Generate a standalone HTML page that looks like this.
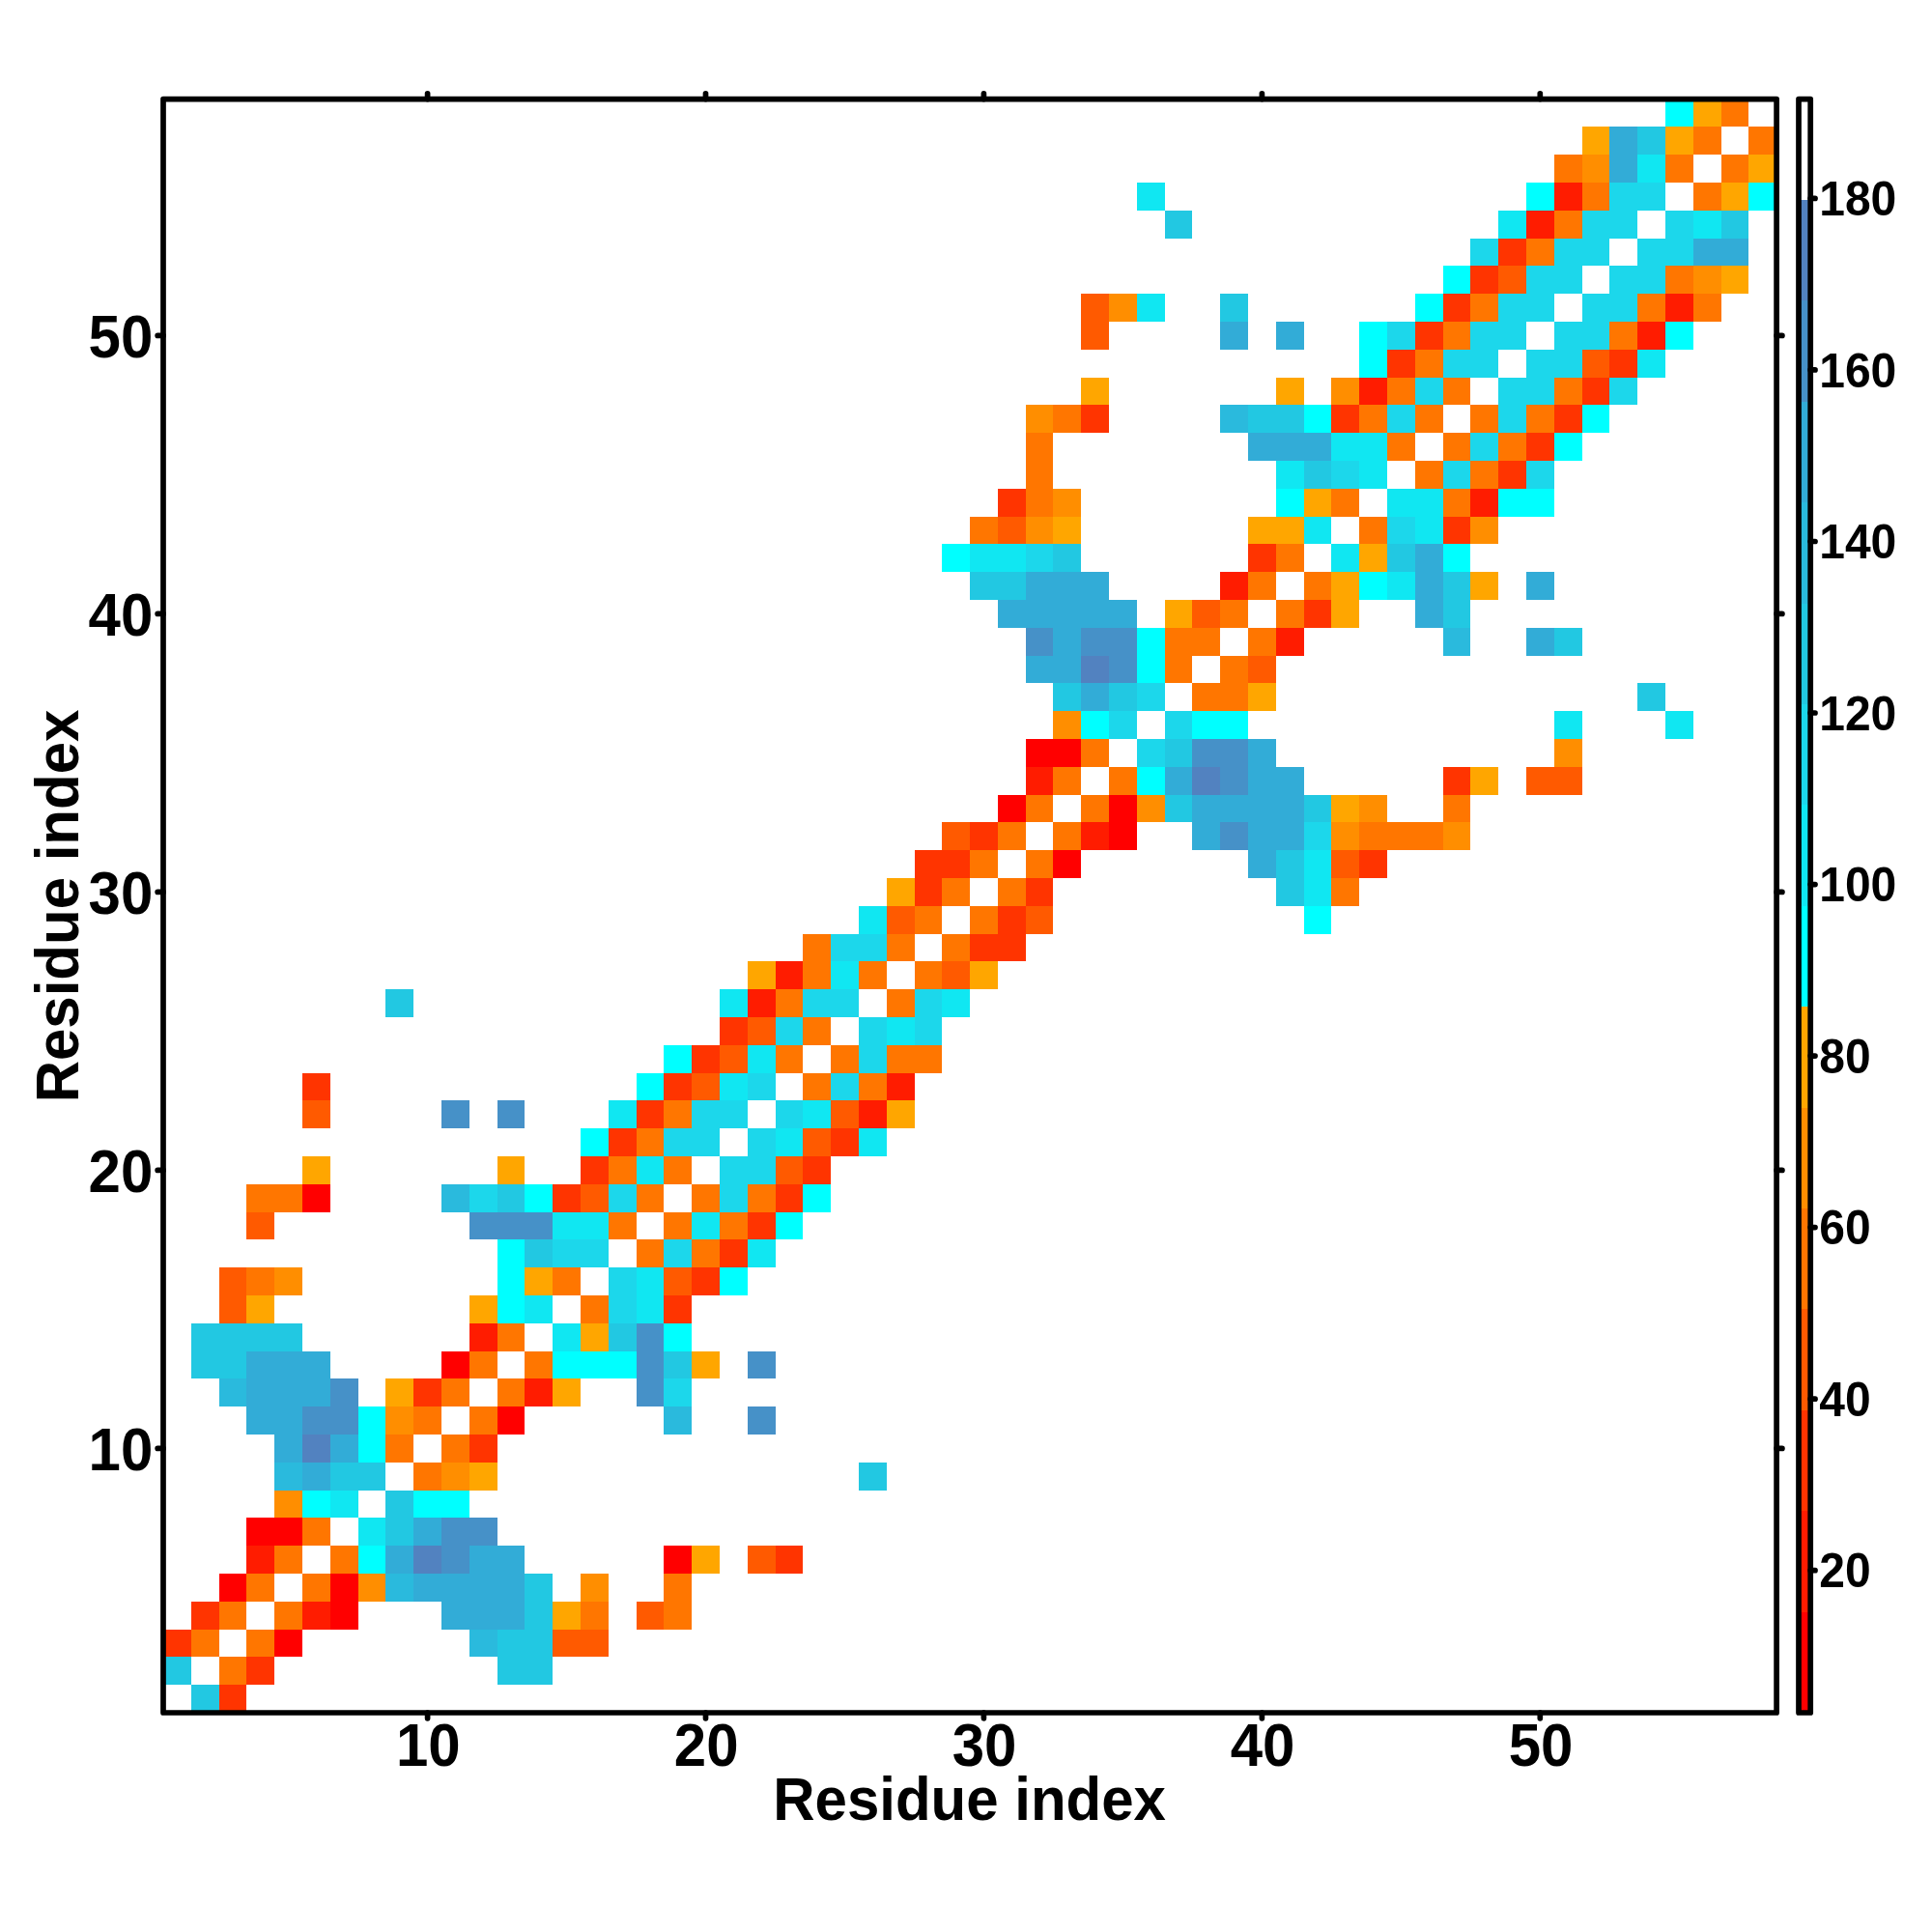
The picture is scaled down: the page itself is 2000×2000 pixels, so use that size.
<!DOCTYPE html>
<html><head><meta charset="utf-8"><title>Residue contact map</title>
<style>
html,body{margin:0;padding:0;background:#fff;}
body{width:2000px;height:2000px;overflow:hidden;}
svg{display:block;}
text{font-family:"Liberation Sans",sans-serif;font-weight:bold;fill:#000;}
.t60{font-size:60px;}
.t48{font-size:48px;}
</style></head><body>
<svg width="2000" height="2000" viewBox="0 0 2000 2000">
<rect x="0" y="0" width="2000" height="2000" fill="#ffffff"/>

<g shape-rendering="crispEdges">
<rect x="197.8" y="1744.2" width="28.8" height="28.8" fill="#22c8e2"/>
<rect x="226.6" y="1744.2" width="28.8" height="28.8" fill="#ff3400"/>
<rect x="169.0" y="1715.4" width="28.8" height="28.8" fill="#22c8e2"/>
<rect x="226.6" y="1715.4" width="28.8" height="28.8" fill="#ff7600"/>
<rect x="255.4" y="1715.4" width="28.8" height="28.8" fill="#ff3400"/>
<rect x="514.5" y="1715.4" width="57.6" height="28.8" fill="#22c8e2"/>
<rect x="169.0" y="1686.6" width="28.8" height="28.8" fill="#ff3400"/>
<rect x="197.8" y="1686.6" width="28.8" height="28.8" fill="#ff7600"/>
<rect x="255.4" y="1686.6" width="28.8" height="28.8" fill="#ff7600"/>
<rect x="284.2" y="1686.6" width="28.8" height="28.8" fill="#ff0000"/>
<rect x="485.7" y="1686.6" width="28.8" height="28.8" fill="#2abadd"/>
<rect x="514.5" y="1686.6" width="57.6" height="28.8" fill="#22c8e2"/>
<rect x="572.1" y="1686.6" width="57.6" height="28.8" fill="#ff5a00"/>
<rect x="197.8" y="1657.8" width="28.8" height="28.8" fill="#ff3400"/>
<rect x="226.6" y="1657.8" width="28.8" height="28.8" fill="#ff7600"/>
<rect x="284.2" y="1657.8" width="28.8" height="28.8" fill="#ff7600"/>
<rect x="313.0" y="1657.8" width="28.8" height="28.8" fill="#ff1c00"/>
<rect x="341.8" y="1657.8" width="28.8" height="28.8" fill="#ff0000"/>
<rect x="456.9" y="1657.8" width="86.4" height="28.8" fill="#32acd7"/>
<rect x="543.3" y="1657.8" width="28.8" height="28.8" fill="#22c8e2"/>
<rect x="572.1" y="1657.8" width="28.8" height="28.8" fill="#ffa600"/>
<rect x="600.9" y="1657.8" width="28.8" height="28.8" fill="#ff7600"/>
<rect x="658.5" y="1657.8" width="28.8" height="28.8" fill="#ff5a00"/>
<rect x="687.3" y="1657.8" width="28.8" height="28.8" fill="#ff7600"/>
<rect x="226.6" y="1629.0" width="28.8" height="28.8" fill="#ff0000"/>
<rect x="255.4" y="1629.0" width="28.8" height="28.8" fill="#ff7600"/>
<rect x="313.0" y="1629.0" width="28.8" height="28.8" fill="#ff7600"/>
<rect x="341.8" y="1629.0" width="28.8" height="28.8" fill="#ff0000"/>
<rect x="370.6" y="1629.0" width="28.8" height="28.8" fill="#ff8e00"/>
<rect x="399.4" y="1629.0" width="28.8" height="28.8" fill="#2abadd"/>
<rect x="428.2" y="1629.0" width="115.2" height="28.8" fill="#32acd7"/>
<rect x="543.3" y="1629.0" width="28.8" height="28.8" fill="#22c8e2"/>
<rect x="600.9" y="1629.0" width="28.8" height="28.8" fill="#ff8e00"/>
<rect x="687.3" y="1629.0" width="28.8" height="28.8" fill="#ff7600"/>
<rect x="255.4" y="1600.2" width="28.8" height="28.8" fill="#ff1c00"/>
<rect x="284.2" y="1600.2" width="28.8" height="28.8" fill="#ff7600"/>
<rect x="341.8" y="1600.2" width="28.8" height="28.8" fill="#ff7600"/>
<rect x="370.6" y="1600.2" width="28.8" height="28.8" fill="#00ffff"/>
<rect x="399.4" y="1600.2" width="28.8" height="28.8" fill="#32acd7"/>
<rect x="428.2" y="1600.2" width="28.8" height="28.8" fill="#5282c0"/>
<rect x="456.9" y="1600.2" width="28.8" height="28.8" fill="#4691c8"/>
<rect x="485.7" y="1600.2" width="57.6" height="28.8" fill="#32acd7"/>
<rect x="687.3" y="1600.2" width="28.8" height="28.8" fill="#ff0000"/>
<rect x="716.1" y="1600.2" width="28.8" height="28.8" fill="#ffa600"/>
<rect x="773.7" y="1600.2" width="28.8" height="28.8" fill="#ff5a00"/>
<rect x="802.5" y="1600.2" width="28.8" height="28.8" fill="#ff3400"/>
<rect x="255.4" y="1571.4" width="57.6" height="28.8" fill="#ff0000"/>
<rect x="313.0" y="1571.4" width="28.8" height="28.8" fill="#ff7600"/>
<rect x="370.6" y="1571.4" width="28.8" height="28.8" fill="#10e7f2"/>
<rect x="399.4" y="1571.4" width="28.8" height="28.8" fill="#22c8e2"/>
<rect x="428.2" y="1571.4" width="28.8" height="28.8" fill="#32acd7"/>
<rect x="456.9" y="1571.4" width="57.6" height="28.8" fill="#4691c8"/>
<rect x="284.2" y="1542.6" width="28.8" height="28.8" fill="#ff8e00"/>
<rect x="313.0" y="1542.6" width="28.8" height="28.8" fill="#00ffff"/>
<rect x="341.8" y="1542.6" width="28.8" height="28.8" fill="#10e7f2"/>
<rect x="399.4" y="1542.6" width="28.8" height="28.8" fill="#22c8e2"/>
<rect x="428.2" y="1542.6" width="57.6" height="28.8" fill="#00ffff"/>
<rect x="284.2" y="1513.8" width="28.8" height="28.8" fill="#2abadd"/>
<rect x="313.0" y="1513.8" width="28.8" height="28.8" fill="#32acd7"/>
<rect x="341.8" y="1513.8" width="57.6" height="28.8" fill="#22c8e2"/>
<rect x="428.2" y="1513.8" width="28.8" height="28.8" fill="#ff7600"/>
<rect x="456.9" y="1513.8" width="28.8" height="28.8" fill="#ff8e00"/>
<rect x="485.7" y="1513.8" width="28.8" height="28.8" fill="#ffa600"/>
<rect x="888.9" y="1513.8" width="28.8" height="28.8" fill="#22c8e2"/>
<rect x="284.2" y="1485.0" width="28.8" height="28.8" fill="#32acd7"/>
<rect x="313.0" y="1485.0" width="28.8" height="28.8" fill="#5282c0"/>
<rect x="341.8" y="1485.0" width="28.8" height="28.8" fill="#32acd7"/>
<rect x="370.6" y="1485.0" width="28.8" height="28.8" fill="#00ffff"/>
<rect x="399.4" y="1485.0" width="28.8" height="28.8" fill="#ff7600"/>
<rect x="456.9" y="1485.0" width="28.8" height="28.8" fill="#ff7600"/>
<rect x="485.7" y="1485.0" width="28.8" height="28.8" fill="#ff3400"/>
<rect x="255.4" y="1456.2" width="57.6" height="28.8" fill="#32acd7"/>
<rect x="313.0" y="1456.2" width="57.6" height="28.8" fill="#4691c8"/>
<rect x="370.6" y="1456.2" width="28.8" height="28.8" fill="#00ffff"/>
<rect x="399.4" y="1456.2" width="28.8" height="28.8" fill="#ff8e00"/>
<rect x="428.2" y="1456.2" width="28.8" height="28.8" fill="#ff7600"/>
<rect x="485.7" y="1456.2" width="28.8" height="28.8" fill="#ff7600"/>
<rect x="514.5" y="1456.2" width="28.8" height="28.8" fill="#ff0000"/>
<rect x="687.3" y="1456.2" width="28.8" height="28.8" fill="#2abadd"/>
<rect x="773.7" y="1456.2" width="28.8" height="28.8" fill="#4691c8"/>
<rect x="226.6" y="1427.4" width="28.8" height="28.8" fill="#2abadd"/>
<rect x="255.4" y="1427.4" width="86.4" height="28.8" fill="#32acd7"/>
<rect x="341.8" y="1427.4" width="28.8" height="28.8" fill="#4691c8"/>
<rect x="399.4" y="1427.4" width="28.8" height="28.8" fill="#ffa600"/>
<rect x="428.2" y="1427.4" width="28.8" height="28.8" fill="#ff3400"/>
<rect x="456.9" y="1427.4" width="28.8" height="28.8" fill="#ff7600"/>
<rect x="514.5" y="1427.4" width="28.8" height="28.8" fill="#ff7600"/>
<rect x="543.3" y="1427.4" width="28.8" height="28.8" fill="#ff1c00"/>
<rect x="572.1" y="1427.4" width="28.8" height="28.8" fill="#ffa600"/>
<rect x="658.5" y="1427.4" width="28.8" height="28.8" fill="#4691c8"/>
<rect x="687.3" y="1427.4" width="28.8" height="28.8" fill="#1cd7eb"/>
<rect x="197.8" y="1398.6" width="57.6" height="28.8" fill="#22c8e2"/>
<rect x="255.4" y="1398.6" width="86.4" height="28.8" fill="#32acd7"/>
<rect x="456.9" y="1398.6" width="28.8" height="28.8" fill="#ff0000"/>
<rect x="485.7" y="1398.6" width="28.8" height="28.8" fill="#ff7600"/>
<rect x="543.3" y="1398.6" width="28.8" height="28.8" fill="#ff7600"/>
<rect x="572.1" y="1398.6" width="86.4" height="28.8" fill="#00ffff"/>
<rect x="658.5" y="1398.6" width="28.8" height="28.8" fill="#4691c8"/>
<rect x="687.3" y="1398.6" width="28.8" height="28.8" fill="#22c8e2"/>
<rect x="716.1" y="1398.6" width="28.8" height="28.8" fill="#ffa600"/>
<rect x="773.7" y="1398.6" width="28.8" height="28.8" fill="#4691c8"/>
<rect x="197.8" y="1369.8" width="115.2" height="28.8" fill="#22c8e2"/>
<rect x="485.7" y="1369.8" width="28.8" height="28.8" fill="#ff1c00"/>
<rect x="514.5" y="1369.8" width="28.8" height="28.8" fill="#ff7600"/>
<rect x="572.1" y="1369.8" width="28.8" height="28.8" fill="#10e7f2"/>
<rect x="600.9" y="1369.8" width="28.8" height="28.8" fill="#ffa600"/>
<rect x="629.7" y="1369.8" width="28.8" height="28.8" fill="#22c8e2"/>
<rect x="658.5" y="1369.8" width="28.8" height="28.8" fill="#4691c8"/>
<rect x="687.3" y="1369.8" width="28.8" height="28.8" fill="#00ffff"/>
<rect x="226.6" y="1341.0" width="28.8" height="28.8" fill="#ff5a00"/>
<rect x="255.4" y="1341.0" width="28.8" height="28.8" fill="#ffa600"/>
<rect x="485.7" y="1341.0" width="28.8" height="28.8" fill="#ffa600"/>
<rect x="514.5" y="1341.0" width="28.8" height="28.8" fill="#00ffff"/>
<rect x="543.3" y="1341.0" width="28.8" height="28.8" fill="#10e7f2"/>
<rect x="600.9" y="1341.0" width="28.8" height="28.8" fill="#ff7600"/>
<rect x="629.7" y="1341.0" width="28.8" height="28.8" fill="#1cd7eb"/>
<rect x="658.5" y="1341.0" width="28.8" height="28.8" fill="#10e7f2"/>
<rect x="687.3" y="1341.0" width="28.8" height="28.8" fill="#ff3400"/>
<rect x="226.6" y="1312.2" width="28.8" height="28.8" fill="#ff5a00"/>
<rect x="255.4" y="1312.2" width="28.8" height="28.8" fill="#ff7600"/>
<rect x="284.2" y="1312.2" width="28.8" height="28.8" fill="#ff8e00"/>
<rect x="514.5" y="1312.2" width="28.8" height="28.8" fill="#00ffff"/>
<rect x="543.3" y="1312.2" width="28.8" height="28.8" fill="#ffa600"/>
<rect x="572.1" y="1312.2" width="28.8" height="28.8" fill="#ff7600"/>
<rect x="629.7" y="1312.2" width="28.8" height="28.8" fill="#1cd7eb"/>
<rect x="658.5" y="1312.2" width="28.8" height="28.8" fill="#10e7f2"/>
<rect x="687.3" y="1312.2" width="28.8" height="28.8" fill="#ff5a00"/>
<rect x="716.1" y="1312.2" width="28.8" height="28.8" fill="#ff3400"/>
<rect x="744.9" y="1312.2" width="28.8" height="28.8" fill="#00ffff"/>
<rect x="514.5" y="1283.4" width="28.8" height="28.8" fill="#00ffff"/>
<rect x="543.3" y="1283.4" width="28.8" height="28.8" fill="#22c8e2"/>
<rect x="572.1" y="1283.4" width="57.6" height="28.8" fill="#1cd7eb"/>
<rect x="658.5" y="1283.4" width="28.8" height="28.8" fill="#ff7600"/>
<rect x="687.3" y="1283.4" width="28.8" height="28.8" fill="#1cd7eb"/>
<rect x="716.1" y="1283.4" width="28.8" height="28.8" fill="#ff7600"/>
<rect x="744.9" y="1283.4" width="28.8" height="28.8" fill="#ff3400"/>
<rect x="773.7" y="1283.4" width="28.8" height="28.8" fill="#10e7f2"/>
<rect x="255.4" y="1254.6" width="28.8" height="28.8" fill="#ff5a00"/>
<rect x="485.7" y="1254.6" width="86.4" height="28.8" fill="#4691c8"/>
<rect x="572.1" y="1254.6" width="57.6" height="28.8" fill="#10e7f2"/>
<rect x="629.7" y="1254.6" width="28.8" height="28.8" fill="#ff7600"/>
<rect x="687.3" y="1254.6" width="28.8" height="28.8" fill="#ff7600"/>
<rect x="716.1" y="1254.6" width="28.8" height="28.8" fill="#10e7f2"/>
<rect x="744.9" y="1254.6" width="28.8" height="28.8" fill="#ff7600"/>
<rect x="773.7" y="1254.6" width="28.8" height="28.8" fill="#ff3400"/>
<rect x="802.5" y="1254.6" width="28.8" height="28.8" fill="#00ffff"/>
<rect x="255.4" y="1225.8" width="57.6" height="28.8" fill="#ff7600"/>
<rect x="313.0" y="1225.8" width="28.8" height="28.8" fill="#ff0000"/>
<rect x="456.9" y="1225.8" width="28.8" height="28.8" fill="#2abadd"/>
<rect x="485.7" y="1225.8" width="28.8" height="28.8" fill="#1cd7eb"/>
<rect x="514.5" y="1225.8" width="28.8" height="28.8" fill="#22c8e2"/>
<rect x="543.3" y="1225.8" width="28.8" height="28.8" fill="#00ffff"/>
<rect x="572.1" y="1225.8" width="28.8" height="28.8" fill="#ff3400"/>
<rect x="600.9" y="1225.8" width="28.8" height="28.8" fill="#ff5a00"/>
<rect x="629.7" y="1225.8" width="28.8" height="28.8" fill="#1cd7eb"/>
<rect x="658.5" y="1225.8" width="28.8" height="28.8" fill="#ff7600"/>
<rect x="716.1" y="1225.8" width="28.8" height="28.8" fill="#ff7600"/>
<rect x="744.9" y="1225.8" width="28.8" height="28.8" fill="#1cd7eb"/>
<rect x="773.7" y="1225.8" width="28.8" height="28.8" fill="#ff7600"/>
<rect x="802.5" y="1225.8" width="28.8" height="28.8" fill="#ff3400"/>
<rect x="831.3" y="1225.8" width="28.8" height="28.8" fill="#00ffff"/>
<rect x="313.0" y="1197.0" width="28.8" height="28.8" fill="#ffa600"/>
<rect x="514.5" y="1197.0" width="28.8" height="28.8" fill="#ffa600"/>
<rect x="600.9" y="1197.0" width="28.8" height="28.8" fill="#ff3400"/>
<rect x="629.7" y="1197.0" width="28.8" height="28.8" fill="#ff7600"/>
<rect x="658.5" y="1197.0" width="28.8" height="28.8" fill="#10e7f2"/>
<rect x="687.3" y="1197.0" width="28.8" height="28.8" fill="#ff7600"/>
<rect x="744.9" y="1197.0" width="57.6" height="28.8" fill="#1cd7eb"/>
<rect x="802.5" y="1197.0" width="28.8" height="28.8" fill="#ff5a00"/>
<rect x="831.3" y="1197.0" width="28.8" height="28.8" fill="#ff3400"/>
<rect x="600.9" y="1168.2" width="28.8" height="28.8" fill="#00ffff"/>
<rect x="629.7" y="1168.2" width="28.8" height="28.8" fill="#ff3400"/>
<rect x="658.5" y="1168.2" width="28.8" height="28.8" fill="#ff7600"/>
<rect x="687.3" y="1168.2" width="57.6" height="28.8" fill="#1cd7eb"/>
<rect x="773.7" y="1168.2" width="28.8" height="28.8" fill="#1cd7eb"/>
<rect x="802.5" y="1168.2" width="28.8" height="28.8" fill="#10e7f2"/>
<rect x="831.3" y="1168.2" width="28.8" height="28.8" fill="#ff5a00"/>
<rect x="860.1" y="1168.2" width="28.8" height="28.8" fill="#ff3400"/>
<rect x="888.9" y="1168.2" width="28.8" height="28.8" fill="#10e7f2"/>
<rect x="313.0" y="1139.4" width="28.8" height="28.8" fill="#ff5a00"/>
<rect x="456.9" y="1139.4" width="28.8" height="28.8" fill="#4691c8"/>
<rect x="514.5" y="1139.4" width="28.8" height="28.8" fill="#4691c8"/>
<rect x="629.7" y="1139.4" width="28.8" height="28.8" fill="#10e7f2"/>
<rect x="658.5" y="1139.4" width="28.8" height="28.8" fill="#ff3400"/>
<rect x="687.3" y="1139.4" width="28.8" height="28.8" fill="#ff7600"/>
<rect x="716.1" y="1139.4" width="57.6" height="28.8" fill="#1cd7eb"/>
<rect x="802.5" y="1139.4" width="28.8" height="28.8" fill="#1cd7eb"/>
<rect x="831.3" y="1139.4" width="28.8" height="28.8" fill="#10e7f2"/>
<rect x="860.1" y="1139.4" width="28.8" height="28.8" fill="#ff5a00"/>
<rect x="888.9" y="1139.4" width="28.8" height="28.8" fill="#ff1c00"/>
<rect x="917.7" y="1139.4" width="28.8" height="28.8" fill="#ffa600"/>
<rect x="313.0" y="1110.6" width="28.8" height="28.8" fill="#ff3400"/>
<rect x="658.5" y="1110.6" width="28.8" height="28.8" fill="#00ffff"/>
<rect x="687.3" y="1110.6" width="28.8" height="28.8" fill="#ff3400"/>
<rect x="716.1" y="1110.6" width="28.8" height="28.8" fill="#ff5a00"/>
<rect x="744.9" y="1110.6" width="28.8" height="28.8" fill="#10e7f2"/>
<rect x="773.7" y="1110.6" width="28.8" height="28.8" fill="#1cd7eb"/>
<rect x="831.3" y="1110.6" width="28.8" height="28.8" fill="#ff7600"/>
<rect x="860.1" y="1110.6" width="28.8" height="28.8" fill="#1cd7eb"/>
<rect x="888.9" y="1110.6" width="28.8" height="28.8" fill="#ff7600"/>
<rect x="917.7" y="1110.6" width="28.8" height="28.8" fill="#ff1c00"/>
<rect x="687.3" y="1081.8" width="28.8" height="28.8" fill="#00ffff"/>
<rect x="716.1" y="1081.8" width="28.8" height="28.8" fill="#ff3400"/>
<rect x="744.9" y="1081.8" width="28.8" height="28.8" fill="#ff5a00"/>
<rect x="773.7" y="1081.8" width="28.8" height="28.8" fill="#10e7f2"/>
<rect x="802.5" y="1081.8" width="28.8" height="28.8" fill="#ff7600"/>
<rect x="860.1" y="1081.8" width="28.8" height="28.8" fill="#ff7600"/>
<rect x="888.9" y="1081.8" width="28.8" height="28.8" fill="#1cd7eb"/>
<rect x="917.7" y="1081.8" width="57.6" height="28.8" fill="#ff7600"/>
<rect x="744.9" y="1053.0" width="28.8" height="28.8" fill="#ff3400"/>
<rect x="773.7" y="1053.0" width="28.8" height="28.8" fill="#ff5a00"/>
<rect x="802.5" y="1053.0" width="28.8" height="28.8" fill="#1cd7eb"/>
<rect x="831.3" y="1053.0" width="28.8" height="28.8" fill="#ff7600"/>
<rect x="888.9" y="1053.0" width="28.8" height="28.8" fill="#1cd7eb"/>
<rect x="917.7" y="1053.0" width="28.8" height="28.8" fill="#10e7f2"/>
<rect x="946.5" y="1053.0" width="28.8" height="28.8" fill="#1cd7eb"/>
<rect x="399.4" y="1024.2" width="28.8" height="28.8" fill="#22c8e2"/>
<rect x="744.9" y="1024.2" width="28.8" height="28.8" fill="#10e7f2"/>
<rect x="773.7" y="1024.2" width="28.8" height="28.8" fill="#ff1c00"/>
<rect x="802.5" y="1024.2" width="28.8" height="28.8" fill="#ff7600"/>
<rect x="831.3" y="1024.2" width="57.6" height="28.8" fill="#1cd7eb"/>
<rect x="917.7" y="1024.2" width="28.8" height="28.8" fill="#ff7600"/>
<rect x="946.5" y="1024.2" width="28.8" height="28.8" fill="#1cd7eb"/>
<rect x="975.3" y="1024.2" width="28.8" height="28.8" fill="#10e7f2"/>
<rect x="773.7" y="995.4" width="28.8" height="28.8" fill="#ffa600"/>
<rect x="802.5" y="995.4" width="28.8" height="28.8" fill="#ff1c00"/>
<rect x="831.3" y="995.4" width="28.8" height="28.8" fill="#ff7600"/>
<rect x="860.1" y="995.4" width="28.8" height="28.8" fill="#10e7f2"/>
<rect x="888.9" y="995.4" width="28.8" height="28.8" fill="#ff7600"/>
<rect x="946.5" y="995.4" width="28.8" height="28.8" fill="#ff7600"/>
<rect x="975.3" y="995.4" width="28.8" height="28.8" fill="#ff5a00"/>
<rect x="1004.0" y="995.4" width="28.8" height="28.8" fill="#ffa600"/>
<rect x="831.3" y="966.6" width="28.8" height="28.8" fill="#ff7600"/>
<rect x="860.1" y="966.6" width="57.6" height="28.8" fill="#1cd7eb"/>
<rect x="917.7" y="966.6" width="28.8" height="28.8" fill="#ff7600"/>
<rect x="975.3" y="966.6" width="28.8" height="28.8" fill="#ff7600"/>
<rect x="1004.0" y="966.6" width="57.6" height="28.8" fill="#ff3400"/>
<rect x="888.9" y="937.8" width="28.8" height="28.8" fill="#10e7f2"/>
<rect x="917.7" y="937.8" width="28.8" height="28.8" fill="#ff5a00"/>
<rect x="946.5" y="937.8" width="28.8" height="28.8" fill="#ff7600"/>
<rect x="1004.0" y="937.8" width="28.8" height="28.8" fill="#ff7600"/>
<rect x="1032.8" y="937.8" width="28.8" height="28.8" fill="#ff3400"/>
<rect x="1061.6" y="937.8" width="28.8" height="28.8" fill="#ff5a00"/>
<rect x="1349.6" y="937.8" width="28.8" height="28.8" fill="#00ffff"/>
<rect x="917.7" y="909.0" width="28.8" height="28.8" fill="#ffa600"/>
<rect x="946.5" y="909.0" width="28.8" height="28.8" fill="#ff3400"/>
<rect x="975.3" y="909.0" width="28.8" height="28.8" fill="#ff7600"/>
<rect x="1032.8" y="909.0" width="28.8" height="28.8" fill="#ff7600"/>
<rect x="1061.6" y="909.0" width="28.8" height="28.8" fill="#ff3400"/>
<rect x="1320.8" y="909.0" width="28.8" height="28.8" fill="#22c8e2"/>
<rect x="1349.6" y="909.0" width="28.8" height="28.8" fill="#10e7f2"/>
<rect x="1378.4" y="909.0" width="28.8" height="28.8" fill="#ff7600"/>
<rect x="946.5" y="880.2" width="57.6" height="28.8" fill="#ff3400"/>
<rect x="1004.0" y="880.2" width="28.8" height="28.8" fill="#ff7600"/>
<rect x="1061.6" y="880.2" width="28.8" height="28.8" fill="#ff7600"/>
<rect x="1090.4" y="880.2" width="28.8" height="28.8" fill="#ff0000"/>
<rect x="1292.0" y="880.2" width="28.8" height="28.8" fill="#32acd7"/>
<rect x="1320.8" y="880.2" width="28.8" height="28.8" fill="#22c8e2"/>
<rect x="1349.6" y="880.2" width="28.8" height="28.8" fill="#10e7f2"/>
<rect x="1378.4" y="880.2" width="28.8" height="28.8" fill="#ff5a00"/>
<rect x="1407.2" y="880.2" width="28.8" height="28.8" fill="#ff3400"/>
<rect x="975.3" y="851.4" width="28.8" height="28.8" fill="#ff5a00"/>
<rect x="1004.0" y="851.4" width="28.8" height="28.8" fill="#ff3400"/>
<rect x="1032.8" y="851.4" width="28.8" height="28.8" fill="#ff7600"/>
<rect x="1090.4" y="851.4" width="28.8" height="28.8" fill="#ff7600"/>
<rect x="1119.2" y="851.4" width="28.8" height="28.8" fill="#ff1c00"/>
<rect x="1148.0" y="851.4" width="28.8" height="28.8" fill="#ff0000"/>
<rect x="1234.4" y="851.4" width="28.8" height="28.8" fill="#32acd7"/>
<rect x="1263.2" y="851.4" width="28.8" height="28.8" fill="#4691c8"/>
<rect x="1292.0" y="851.4" width="57.6" height="28.8" fill="#32acd7"/>
<rect x="1349.6" y="851.4" width="28.8" height="28.8" fill="#1cd7eb"/>
<rect x="1378.4" y="851.4" width="28.8" height="28.8" fill="#ff8e00"/>
<rect x="1407.2" y="851.4" width="86.4" height="28.8" fill="#ff7600"/>
<rect x="1493.6" y="851.4" width="28.8" height="28.8" fill="#ff8e00"/>
<rect x="1032.8" y="822.6" width="28.8" height="28.8" fill="#ff0000"/>
<rect x="1061.6" y="822.6" width="28.8" height="28.8" fill="#ff7600"/>
<rect x="1119.2" y="822.6" width="28.8" height="28.8" fill="#ff7600"/>
<rect x="1148.0" y="822.6" width="28.8" height="28.8" fill="#ff0000"/>
<rect x="1176.8" y="822.6" width="28.8" height="28.8" fill="#ff8e00"/>
<rect x="1205.6" y="822.6" width="28.8" height="28.8" fill="#22c8e2"/>
<rect x="1234.4" y="822.6" width="115.2" height="28.8" fill="#32acd7"/>
<rect x="1349.6" y="822.6" width="28.8" height="28.8" fill="#22c8e2"/>
<rect x="1378.4" y="822.6" width="28.8" height="28.8" fill="#ffa600"/>
<rect x="1407.2" y="822.6" width="28.8" height="28.8" fill="#ff8e00"/>
<rect x="1493.6" y="822.6" width="28.8" height="28.8" fill="#ff7600"/>
<rect x="1061.6" y="793.8" width="28.8" height="28.8" fill="#ff1c00"/>
<rect x="1090.4" y="793.8" width="28.8" height="28.8" fill="#ff7600"/>
<rect x="1148.0" y="793.8" width="28.8" height="28.8" fill="#ff7600"/>
<rect x="1176.8" y="793.8" width="28.8" height="28.8" fill="#00ffff"/>
<rect x="1205.6" y="793.8" width="28.8" height="28.8" fill="#32acd7"/>
<rect x="1234.4" y="793.8" width="28.8" height="28.8" fill="#5282c0"/>
<rect x="1263.2" y="793.8" width="28.8" height="28.8" fill="#4691c8"/>
<rect x="1292.0" y="793.8" width="57.6" height="28.8" fill="#32acd7"/>
<rect x="1493.6" y="793.8" width="28.8" height="28.8" fill="#ff3400"/>
<rect x="1522.4" y="793.8" width="28.8" height="28.8" fill="#ffa600"/>
<rect x="1579.9" y="793.8" width="57.6" height="28.8" fill="#ff5a00"/>
<rect x="1061.6" y="765.0" width="57.6" height="28.8" fill="#ff0000"/>
<rect x="1119.2" y="765.0" width="28.8" height="28.8" fill="#ff7600"/>
<rect x="1176.8" y="765.0" width="28.8" height="28.8" fill="#1cd7eb"/>
<rect x="1205.6" y="765.0" width="28.8" height="28.8" fill="#22c8e2"/>
<rect x="1234.4" y="765.0" width="57.6" height="28.8" fill="#4691c8"/>
<rect x="1292.0" y="765.0" width="28.8" height="28.8" fill="#32acd7"/>
<rect x="1608.7" y="765.0" width="28.8" height="28.8" fill="#ff8e00"/>
<rect x="1090.4" y="736.2" width="28.8" height="28.8" fill="#ff8e00"/>
<rect x="1119.2" y="736.2" width="28.8" height="28.8" fill="#00ffff"/>
<rect x="1148.0" y="736.2" width="28.8" height="28.8" fill="#1cd7eb"/>
<rect x="1205.6" y="736.2" width="28.8" height="28.8" fill="#1cd7eb"/>
<rect x="1234.4" y="736.2" width="57.6" height="28.8" fill="#00ffff"/>
<rect x="1608.7" y="736.2" width="28.8" height="28.8" fill="#10e7f2"/>
<rect x="1723.9" y="736.2" width="28.8" height="28.8" fill="#10e7f2"/>
<rect x="1090.4" y="707.4" width="28.8" height="28.8" fill="#22c8e2"/>
<rect x="1119.2" y="707.4" width="28.8" height="28.8" fill="#32acd7"/>
<rect x="1148.0" y="707.4" width="28.8" height="28.8" fill="#22c8e2"/>
<rect x="1176.8" y="707.4" width="28.8" height="28.8" fill="#1cd7eb"/>
<rect x="1234.4" y="707.4" width="57.6" height="28.8" fill="#ff7600"/>
<rect x="1292.0" y="707.4" width="28.8" height="28.8" fill="#ffa600"/>
<rect x="1695.1" y="707.4" width="28.8" height="28.8" fill="#22c8e2"/>
<rect x="1061.6" y="678.6" width="57.6" height="28.8" fill="#32acd7"/>
<rect x="1119.2" y="678.6" width="28.8" height="28.8" fill="#5282c0"/>
<rect x="1148.0" y="678.6" width="28.8" height="28.8" fill="#4691c8"/>
<rect x="1176.8" y="678.6" width="28.8" height="28.8" fill="#00ffff"/>
<rect x="1205.6" y="678.6" width="28.8" height="28.8" fill="#ff7600"/>
<rect x="1263.2" y="678.6" width="28.8" height="28.8" fill="#ff7600"/>
<rect x="1292.0" y="678.6" width="28.8" height="28.8" fill="#ff5a00"/>
<rect x="1061.6" y="649.8" width="28.8" height="28.8" fill="#4691c8"/>
<rect x="1090.4" y="649.8" width="28.8" height="28.8" fill="#32acd7"/>
<rect x="1119.2" y="649.8" width="57.6" height="28.8" fill="#4691c8"/>
<rect x="1176.8" y="649.8" width="28.8" height="28.8" fill="#00ffff"/>
<rect x="1205.6" y="649.8" width="57.6" height="28.8" fill="#ff7600"/>
<rect x="1292.0" y="649.8" width="28.8" height="28.8" fill="#ff7600"/>
<rect x="1320.8" y="649.8" width="28.8" height="28.8" fill="#ff1c00"/>
<rect x="1493.6" y="649.8" width="28.8" height="28.8" fill="#2abadd"/>
<rect x="1579.9" y="649.8" width="28.8" height="28.8" fill="#32acd7"/>
<rect x="1608.7" y="649.8" width="28.8" height="28.8" fill="#22c8e2"/>
<rect x="1032.8" y="621.0" width="144.0" height="28.8" fill="#32acd7"/>
<rect x="1205.6" y="621.0" width="28.8" height="28.8" fill="#ffa600"/>
<rect x="1234.4" y="621.0" width="28.8" height="28.8" fill="#ff5a00"/>
<rect x="1263.2" y="621.0" width="28.8" height="28.8" fill="#ff7600"/>
<rect x="1320.8" y="621.0" width="28.8" height="28.8" fill="#ff7600"/>
<rect x="1349.6" y="621.0" width="28.8" height="28.8" fill="#ff3400"/>
<rect x="1378.4" y="621.0" width="28.8" height="28.8" fill="#ffa600"/>
<rect x="1464.8" y="621.0" width="28.8" height="28.8" fill="#32acd7"/>
<rect x="1493.6" y="621.0" width="28.8" height="28.8" fill="#22c8e2"/>
<rect x="1004.0" y="592.2" width="57.6" height="28.8" fill="#22c8e2"/>
<rect x="1061.6" y="592.2" width="86.4" height="28.8" fill="#32acd7"/>
<rect x="1263.2" y="592.2" width="28.8" height="28.8" fill="#ff1c00"/>
<rect x="1292.0" y="592.2" width="28.8" height="28.8" fill="#ff7600"/>
<rect x="1349.6" y="592.2" width="28.8" height="28.8" fill="#ff7600"/>
<rect x="1378.4" y="592.2" width="28.8" height="28.8" fill="#ffa600"/>
<rect x="1407.2" y="592.2" width="28.8" height="28.8" fill="#00ffff"/>
<rect x="1436.0" y="592.2" width="28.8" height="28.8" fill="#10e7f2"/>
<rect x="1464.8" y="592.2" width="28.8" height="28.8" fill="#32acd7"/>
<rect x="1493.6" y="592.2" width="28.8" height="28.8" fill="#22c8e2"/>
<rect x="1522.4" y="592.2" width="28.8" height="28.8" fill="#ffa600"/>
<rect x="1579.9" y="592.2" width="28.8" height="28.8" fill="#32acd7"/>
<rect x="975.3" y="563.4" width="28.8" height="28.8" fill="#00ffff"/>
<rect x="1004.0" y="563.4" width="57.6" height="28.8" fill="#10e7f2"/>
<rect x="1061.6" y="563.4" width="28.8" height="28.8" fill="#1cd7eb"/>
<rect x="1090.4" y="563.4" width="28.8" height="28.8" fill="#22c8e2"/>
<rect x="1292.0" y="563.4" width="28.8" height="28.8" fill="#ff3400"/>
<rect x="1320.8" y="563.4" width="28.8" height="28.8" fill="#ff7600"/>
<rect x="1378.4" y="563.4" width="28.8" height="28.8" fill="#10e7f2"/>
<rect x="1407.2" y="563.4" width="28.8" height="28.8" fill="#ffa600"/>
<rect x="1436.0" y="563.4" width="28.8" height="28.8" fill="#22c8e2"/>
<rect x="1464.8" y="563.4" width="28.8" height="28.8" fill="#32acd7"/>
<rect x="1493.6" y="563.4" width="28.8" height="28.8" fill="#00ffff"/>
<rect x="1004.0" y="534.6" width="28.8" height="28.8" fill="#ff7600"/>
<rect x="1032.8" y="534.6" width="28.8" height="28.8" fill="#ff5a00"/>
<rect x="1061.6" y="534.6" width="28.8" height="28.8" fill="#ff8e00"/>
<rect x="1090.4" y="534.6" width="28.8" height="28.8" fill="#ffa600"/>
<rect x="1292.0" y="534.6" width="57.6" height="28.8" fill="#ffa600"/>
<rect x="1349.6" y="534.6" width="28.8" height="28.8" fill="#10e7f2"/>
<rect x="1407.2" y="534.6" width="28.8" height="28.8" fill="#ff7600"/>
<rect x="1436.0" y="534.6" width="28.8" height="28.8" fill="#1cd7eb"/>
<rect x="1464.8" y="534.6" width="28.8" height="28.8" fill="#10e7f2"/>
<rect x="1493.6" y="534.6" width="28.8" height="28.8" fill="#ff3400"/>
<rect x="1522.4" y="534.6" width="28.8" height="28.8" fill="#ff8e00"/>
<rect x="1032.8" y="505.8" width="28.8" height="28.8" fill="#ff3400"/>
<rect x="1061.6" y="505.8" width="28.8" height="28.8" fill="#ff7600"/>
<rect x="1090.4" y="505.8" width="28.8" height="28.8" fill="#ff8e00"/>
<rect x="1320.8" y="505.8" width="28.8" height="28.8" fill="#00ffff"/>
<rect x="1349.6" y="505.8" width="28.8" height="28.8" fill="#ffa600"/>
<rect x="1378.4" y="505.8" width="28.8" height="28.8" fill="#ff7600"/>
<rect x="1436.0" y="505.8" width="57.6" height="28.8" fill="#10e7f2"/>
<rect x="1493.6" y="505.8" width="28.8" height="28.8" fill="#ff7600"/>
<rect x="1522.4" y="505.8" width="28.8" height="28.8" fill="#ff1c00"/>
<rect x="1551.2" y="505.8" width="57.6" height="28.8" fill="#00ffff"/>
<rect x="1061.6" y="477.0" width="28.8" height="28.8" fill="#ff7600"/>
<rect x="1320.8" y="477.0" width="28.8" height="28.8" fill="#10e7f2"/>
<rect x="1349.6" y="477.0" width="28.8" height="28.8" fill="#22c8e2"/>
<rect x="1378.4" y="477.0" width="28.8" height="28.8" fill="#1cd7eb"/>
<rect x="1407.2" y="477.0" width="28.8" height="28.8" fill="#10e7f2"/>
<rect x="1464.8" y="477.0" width="28.8" height="28.8" fill="#ff7600"/>
<rect x="1493.6" y="477.0" width="28.8" height="28.8" fill="#1cd7eb"/>
<rect x="1522.4" y="477.0" width="28.8" height="28.8" fill="#ff7600"/>
<rect x="1551.2" y="477.0" width="28.8" height="28.8" fill="#ff3400"/>
<rect x="1579.9" y="477.0" width="28.8" height="28.8" fill="#1cd7eb"/>
<rect x="1061.6" y="448.2" width="28.8" height="28.8" fill="#ff7600"/>
<rect x="1292.0" y="448.2" width="86.4" height="28.8" fill="#32acd7"/>
<rect x="1378.4" y="448.2" width="57.6" height="28.8" fill="#10e7f2"/>
<rect x="1436.0" y="448.2" width="28.8" height="28.8" fill="#ff7600"/>
<rect x="1493.6" y="448.2" width="28.8" height="28.8" fill="#ff7600"/>
<rect x="1522.4" y="448.2" width="28.8" height="28.8" fill="#1cd7eb"/>
<rect x="1551.2" y="448.2" width="28.8" height="28.8" fill="#ff7600"/>
<rect x="1579.9" y="448.2" width="28.8" height="28.8" fill="#ff3400"/>
<rect x="1608.7" y="448.2" width="28.8" height="28.8" fill="#00ffff"/>
<rect x="1061.6" y="419.4" width="28.8" height="28.8" fill="#ff8e00"/>
<rect x="1090.4" y="419.4" width="28.8" height="28.8" fill="#ff7600"/>
<rect x="1119.2" y="419.4" width="28.8" height="28.8" fill="#ff3400"/>
<rect x="1263.2" y="419.4" width="28.8" height="28.8" fill="#2abadd"/>
<rect x="1292.0" y="419.4" width="57.6" height="28.8" fill="#22c8e2"/>
<rect x="1349.6" y="419.4" width="28.8" height="28.8" fill="#00ffff"/>
<rect x="1378.4" y="419.4" width="28.8" height="28.8" fill="#ff3400"/>
<rect x="1407.2" y="419.4" width="28.8" height="28.8" fill="#ff7600"/>
<rect x="1436.0" y="419.4" width="28.8" height="28.8" fill="#1cd7eb"/>
<rect x="1464.8" y="419.4" width="28.8" height="28.8" fill="#ff7600"/>
<rect x="1522.4" y="419.4" width="28.8" height="28.8" fill="#ff7600"/>
<rect x="1551.2" y="419.4" width="28.8" height="28.8" fill="#1cd7eb"/>
<rect x="1579.9" y="419.4" width="28.8" height="28.8" fill="#ff7600"/>
<rect x="1608.7" y="419.4" width="28.8" height="28.8" fill="#ff3400"/>
<rect x="1637.5" y="419.4" width="28.8" height="28.8" fill="#00ffff"/>
<rect x="1119.2" y="390.6" width="28.8" height="28.8" fill="#ffa600"/>
<rect x="1320.8" y="390.6" width="28.8" height="28.8" fill="#ffa600"/>
<rect x="1378.4" y="390.6" width="28.8" height="28.8" fill="#ff8e00"/>
<rect x="1407.2" y="390.6" width="28.8" height="28.8" fill="#ff1c00"/>
<rect x="1436.0" y="390.6" width="28.8" height="28.8" fill="#ff7600"/>
<rect x="1464.8" y="390.6" width="28.8" height="28.8" fill="#1cd7eb"/>
<rect x="1493.6" y="390.6" width="28.8" height="28.8" fill="#ff7600"/>
<rect x="1551.2" y="390.6" width="57.6" height="28.8" fill="#1cd7eb"/>
<rect x="1608.7" y="390.6" width="28.8" height="28.8" fill="#ff7600"/>
<rect x="1637.5" y="390.6" width="28.8" height="28.8" fill="#ff3400"/>
<rect x="1666.3" y="390.6" width="28.8" height="28.8" fill="#1cd7eb"/>
<rect x="1407.2" y="361.8" width="28.8" height="28.8" fill="#00ffff"/>
<rect x="1436.0" y="361.8" width="28.8" height="28.8" fill="#ff3400"/>
<rect x="1464.8" y="361.8" width="28.8" height="28.8" fill="#ff7600"/>
<rect x="1493.6" y="361.8" width="57.6" height="28.8" fill="#1cd7eb"/>
<rect x="1579.9" y="361.8" width="57.6" height="28.8" fill="#1cd7eb"/>
<rect x="1637.5" y="361.8" width="28.8" height="28.8" fill="#ff5a00"/>
<rect x="1666.3" y="361.8" width="28.8" height="28.8" fill="#ff3400"/>
<rect x="1695.1" y="361.8" width="28.8" height="28.8" fill="#10e7f2"/>
<rect x="1119.2" y="333.0" width="28.8" height="28.8" fill="#ff5a00"/>
<rect x="1263.2" y="333.0" width="28.8" height="28.8" fill="#32acd7"/>
<rect x="1320.8" y="333.0" width="28.8" height="28.8" fill="#32acd7"/>
<rect x="1407.2" y="333.0" width="28.8" height="28.8" fill="#00ffff"/>
<rect x="1436.0" y="333.0" width="28.8" height="28.8" fill="#1cd7eb"/>
<rect x="1464.8" y="333.0" width="28.8" height="28.8" fill="#ff3400"/>
<rect x="1493.6" y="333.0" width="28.8" height="28.8" fill="#ff7600"/>
<rect x="1522.4" y="333.0" width="57.6" height="28.8" fill="#1cd7eb"/>
<rect x="1608.7" y="333.0" width="57.6" height="28.8" fill="#1cd7eb"/>
<rect x="1666.3" y="333.0" width="28.8" height="28.8" fill="#ff7600"/>
<rect x="1695.1" y="333.0" width="28.8" height="28.8" fill="#ff1c00"/>
<rect x="1723.9" y="333.0" width="28.8" height="28.8" fill="#00ffff"/>
<rect x="1119.2" y="304.2" width="28.8" height="28.8" fill="#ff5a00"/>
<rect x="1148.0" y="304.2" width="28.8" height="28.8" fill="#ff8e00"/>
<rect x="1176.8" y="304.2" width="28.8" height="28.8" fill="#10e7f2"/>
<rect x="1263.2" y="304.2" width="28.8" height="28.8" fill="#22c8e2"/>
<rect x="1464.8" y="304.2" width="28.8" height="28.8" fill="#00ffff"/>
<rect x="1493.6" y="304.2" width="28.8" height="28.8" fill="#ff3400"/>
<rect x="1522.4" y="304.2" width="28.8" height="28.8" fill="#ff7600"/>
<rect x="1551.2" y="304.2" width="57.6" height="28.8" fill="#1cd7eb"/>
<rect x="1637.5" y="304.2" width="57.6" height="28.8" fill="#1cd7eb"/>
<rect x="1695.1" y="304.2" width="28.8" height="28.8" fill="#ff7600"/>
<rect x="1723.9" y="304.2" width="28.8" height="28.8" fill="#ff1c00"/>
<rect x="1752.7" y="304.2" width="28.8" height="28.8" fill="#ff7600"/>
<rect x="1493.6" y="275.4" width="28.8" height="28.8" fill="#00ffff"/>
<rect x="1522.4" y="275.4" width="28.8" height="28.8" fill="#ff3400"/>
<rect x="1551.2" y="275.4" width="28.8" height="28.8" fill="#ff5a00"/>
<rect x="1579.9" y="275.4" width="57.6" height="28.8" fill="#1cd7eb"/>
<rect x="1666.3" y="275.4" width="57.6" height="28.8" fill="#1cd7eb"/>
<rect x="1723.9" y="275.4" width="28.8" height="28.8" fill="#ff7600"/>
<rect x="1752.7" y="275.4" width="28.8" height="28.8" fill="#ff8e00"/>
<rect x="1781.5" y="275.4" width="28.8" height="28.8" fill="#ffa600"/>
<rect x="1522.4" y="246.6" width="28.8" height="28.8" fill="#1cd7eb"/>
<rect x="1551.2" y="246.6" width="28.8" height="28.8" fill="#ff3400"/>
<rect x="1579.9" y="246.6" width="28.8" height="28.8" fill="#ff7600"/>
<rect x="1608.7" y="246.6" width="57.6" height="28.8" fill="#1cd7eb"/>
<rect x="1695.1" y="246.6" width="57.6" height="28.8" fill="#1cd7eb"/>
<rect x="1752.7" y="246.6" width="57.6" height="28.8" fill="#32acd7"/>
<rect x="1205.6" y="217.8" width="28.8" height="28.8" fill="#22c8e2"/>
<rect x="1551.2" y="217.8" width="28.8" height="28.8" fill="#10e7f2"/>
<rect x="1579.9" y="217.8" width="28.8" height="28.8" fill="#ff1c00"/>
<rect x="1608.7" y="217.8" width="28.8" height="28.8" fill="#ff7600"/>
<rect x="1637.5" y="217.8" width="57.6" height="28.8" fill="#1cd7eb"/>
<rect x="1723.9" y="217.8" width="28.8" height="28.8" fill="#1cd7eb"/>
<rect x="1752.7" y="217.8" width="28.8" height="28.8" fill="#10e7f2"/>
<rect x="1781.5" y="217.8" width="28.8" height="28.8" fill="#22c8e2"/>
<rect x="1176.8" y="189.0" width="28.8" height="28.8" fill="#10e7f2"/>
<rect x="1579.9" y="189.0" width="28.8" height="28.8" fill="#00ffff"/>
<rect x="1608.7" y="189.0" width="28.8" height="28.8" fill="#ff1c00"/>
<rect x="1637.5" y="189.0" width="28.8" height="28.8" fill="#ff7600"/>
<rect x="1666.3" y="189.0" width="57.6" height="28.8" fill="#1cd7eb"/>
<rect x="1752.7" y="189.0" width="28.8" height="28.8" fill="#ff7600"/>
<rect x="1781.5" y="189.0" width="28.8" height="28.8" fill="#ffa600"/>
<rect x="1810.3" y="189.0" width="28.8" height="28.8" fill="#00ffff"/>
<rect x="1608.7" y="160.2" width="28.8" height="28.8" fill="#ff7600"/>
<rect x="1637.5" y="160.2" width="28.8" height="28.8" fill="#ff8e00"/>
<rect x="1666.3" y="160.2" width="28.8" height="28.8" fill="#32acd7"/>
<rect x="1695.1" y="160.2" width="28.8" height="28.8" fill="#10e7f2"/>
<rect x="1723.9" y="160.2" width="28.8" height="28.8" fill="#ff7600"/>
<rect x="1781.5" y="160.2" width="28.8" height="28.8" fill="#ff7600"/>
<rect x="1810.3" y="160.2" width="28.8" height="28.8" fill="#ffa600"/>
<rect x="1637.5" y="131.4" width="28.8" height="28.8" fill="#ffa600"/>
<rect x="1666.3" y="131.4" width="28.8" height="28.8" fill="#32acd7"/>
<rect x="1695.1" y="131.4" width="28.8" height="28.8" fill="#22c8e2"/>
<rect x="1723.9" y="131.4" width="28.8" height="28.8" fill="#ffa600"/>
<rect x="1752.7" y="131.4" width="28.8" height="28.8" fill="#ff7600"/>
<rect x="1810.3" y="131.4" width="28.8" height="28.8" fill="#ff7600"/>
<rect x="1723.9" y="102.6" width="28.8" height="28.8" fill="#00ffff"/>
<rect x="1752.7" y="102.6" width="28.8" height="28.8" fill="#ffa600"/>
<rect x="1781.5" y="102.6" width="28.8" height="28.8" fill="#ff7600"/>
</g>
<g shape-rendering="crispEdges">
<rect x="1862.0" y="1668.60" width="12.2" height="104.40" fill="#ff0000"/>
<rect x="1862.0" y="1564.20" width="12.2" height="104.40" fill="#ff1c00"/>
<rect x="1862.0" y="1459.80" width="12.2" height="104.40" fill="#ff3400"/>
<rect x="1862.0" y="1355.40" width="12.2" height="104.40" fill="#ff5a00"/>
<rect x="1862.0" y="1251.00" width="12.2" height="104.40" fill="#ff7600"/>
<rect x="1862.0" y="1146.60" width="12.2" height="104.40" fill="#ff8e00"/>
<rect x="1862.0" y="1042.20" width="12.2" height="104.40" fill="#ffa600"/>
<rect x="1862.0" y="937.80" width="12.2" height="104.40" fill="#00ffff"/>
<rect x="1862.0" y="833.40" width="12.2" height="104.40" fill="#10e7f2"/>
<rect x="1862.0" y="729.00" width="12.2" height="104.40" fill="#1cd7eb"/>
<rect x="1862.0" y="624.60" width="12.2" height="104.40" fill="#22c8e2"/>
<rect x="1862.0" y="520.20" width="12.2" height="104.40" fill="#2abadd"/>
<rect x="1862.0" y="415.80" width="12.2" height="104.40" fill="#32acd7"/>
<rect x="1862.0" y="311.40" width="12.2" height="104.40" fill="#4691c8"/>
<rect x="1862.0" y="207.00" width="12.2" height="104.40" fill="#5282c0"/>
</g>
<g stroke="#000" stroke-width="5.7" stroke-linecap="round" fill="none">
<line x1="442.6" y1="1773.0" x2="442.6" y2="1778.8"/>
<line x1="442.6" y1="102.6" x2="442.6" y2="96.8"/>
<line x1="169.0" y1="1499.4" x2="163.2" y2="1499.4"/>
<line x1="1839.1" y1="1499.4" x2="1844.9" y2="1499.4"/>
<line x1="730.5" y1="1773.0" x2="730.5" y2="1778.8"/>
<line x1="730.5" y1="102.6" x2="730.5" y2="96.8"/>
<line x1="169.0" y1="1211.4" x2="163.2" y2="1211.4"/>
<line x1="1839.1" y1="1211.4" x2="1844.9" y2="1211.4"/>
<line x1="1018.4" y1="1773.0" x2="1018.4" y2="1778.8"/>
<line x1="1018.4" y1="102.6" x2="1018.4" y2="96.8"/>
<line x1="169.0" y1="923.4" x2="163.2" y2="923.4"/>
<line x1="1839.1" y1="923.4" x2="1844.9" y2="923.4"/>
<line x1="1306.4" y1="1773.0" x2="1306.4" y2="1778.8"/>
<line x1="1306.4" y1="102.6" x2="1306.4" y2="96.8"/>
<line x1="169.0" y1="635.4" x2="163.2" y2="635.4"/>
<line x1="1839.1" y1="635.4" x2="1844.9" y2="635.4"/>
<line x1="1594.3" y1="1773.0" x2="1594.3" y2="1778.8"/>
<line x1="1594.3" y1="102.6" x2="1594.3" y2="96.8"/>
<line x1="169.0" y1="347.4" x2="163.2" y2="347.4"/>
<line x1="1839.1" y1="347.4" x2="1844.9" y2="347.4"/>
<line x1="1874.2" y1="1625.7" x2="1879.0" y2="1625.7"/>
<line x1="1874.2" y1="1448.2" x2="1879.0" y2="1448.2"/>
<line x1="1874.2" y1="1270.6" x2="1879.0" y2="1270.6"/>
<line x1="1874.2" y1="1093.1" x2="1879.0" y2="1093.1"/>
<line x1="1874.2" y1="915.6" x2="1879.0" y2="915.6"/>
<line x1="1874.2" y1="738.0" x2="1879.0" y2="738.0"/>
<line x1="1874.2" y1="560.5" x2="1879.0" y2="560.5"/>
<line x1="1874.2" y1="382.9" x2="1879.0" y2="382.9"/>
<line x1="1874.2" y1="205.4" x2="1879.0" y2="205.4"/>
</g>
<g stroke="#000" stroke-width="5.7" stroke-linejoin="round" fill="none">
<rect x="169.0" y="102.6" width="1670.1" height="1670.4"/>
<rect x="1862.0" y="102.6" width="12.2" height="1670.4"/>
</g>
<text class="t60" transform="translate(443.3,1827.6) scale(1,1.045)" text-anchor="middle">10</text>
<text class="t60" transform="translate(158.3,1522.3) scale(1,1.045)" text-anchor="end">10</text>
<text class="t60" transform="translate(731.2,1827.6) scale(1,1.045)" text-anchor="middle">20</text>
<text class="t60" transform="translate(158.3,1234.3) scale(1,1.045)" text-anchor="end">20</text>
<text class="t60" transform="translate(1019.1,1827.6) scale(1,1.045)" text-anchor="middle">30</text>
<text class="t60" transform="translate(158.3,946.3) scale(1,1.045)" text-anchor="end">30</text>
<text class="t60" transform="translate(1307.1,1827.6) scale(1,1.045)" text-anchor="middle">40</text>
<text class="t60" transform="translate(158.3,658.3) scale(1,1.045)" text-anchor="end">40</text>
<text class="t60" transform="translate(1595.0,1827.6) scale(1,1.045)" text-anchor="middle">50</text>
<text class="t60" transform="translate(158.3,370.3) scale(1,1.045)" text-anchor="end">50</text>
<text class="t48" transform="translate(1883.2,1643.3) scale(1,1.045)">20</text>
<text class="t48" transform="translate(1883.2,1465.8) scale(1,1.045)">40</text>
<text class="t48" transform="translate(1883.2,1288.2) scale(1,1.045)">60</text>
<text class="t48" transform="translate(1883.2,1110.7) scale(1,1.045)">80</text>
<text class="t48" transform="translate(1883.2,933.2) scale(1,1.045)">100</text>
<text class="t48" transform="translate(1883.2,755.6) scale(1,1.045)">120</text>
<text class="t48" transform="translate(1883.2,578.1) scale(1,1.045)">140</text>
<text class="t48" transform="translate(1883.2,400.5) scale(1,1.045)">160</text>
<text class="t48" transform="translate(1883.2,223.0) scale(1,1.045)">180</text>
<text class="t60" transform="translate(1003.6,1884.1) scale(1,1.045)" text-anchor="middle">Residue index</text>
<text class="t60" transform="translate(81.2,938.0) rotate(-90) scale(1,1.045)" text-anchor="middle">Residue index</text>
</svg></body></html>
